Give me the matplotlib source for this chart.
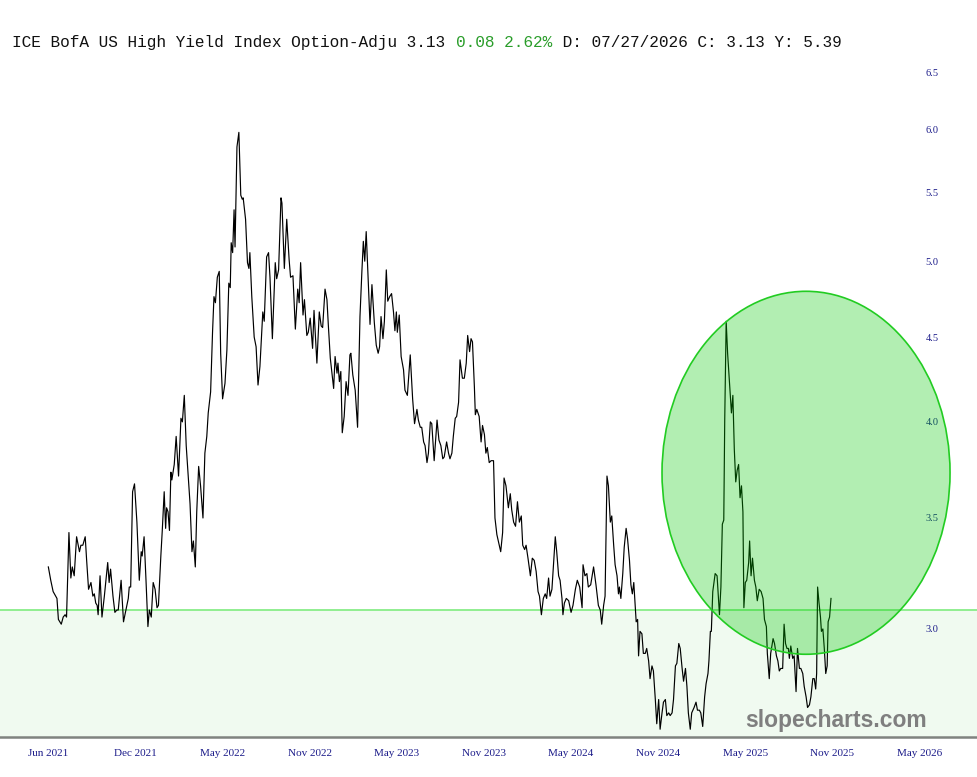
import numpy as np
import pandas as pd
import matplotlib
matplotlib.use("Agg")
import matplotlib.pyplot as plt
from matplotlib.patches import Ellipse
from matplotlib.ticker import NullLocator, FixedLocator, FixedFormatter

# ---------------- data ----------------
start_date = "2021-05-17"

day_offsets = [
    0,5,10,18,21,27,31,35,38,43,47,50,54,59,65,68,72,77,80,84,89,93,96,99,102,104,108,112,117,124,
    127,130,135,139,143,146,152,157,162,167,169,172,176,180,185,190,194,196,200,204,208,211,215,219,
    223,227,230,235,238,242,245,247,250,253,
    256,258,263,267,272,277,280,284,288,293,296,300,303,307,310,314,318,323,327,331,334,339,343,346,
    349,353,357,360,364,369,373,377,380,382,385,388,390,394,398,402,405,407,412,416,419,421,425,430,
    434,438,442,448,451,456,460,463,468,474,477,481,486,488,493,498,503,506,511,516,521,524,527,
    532,535,540,543,547,552,555,561,566,570,573,578,582,585,589,596,599,603,605,608,611,614,618,622,
    626,630,632,636,641,646,651,655,658,661,664,668,672,676,681,685,689,692,695,699,702,706,709,713,
    717,721,724,727,729,733,737,742,745,750,756,761,765,770,773,777,780,784,787,791,794,798,801,806,
    812,816,820,824,827,832,836,839,843,846,850,853,857,860,865,869,873,876,880,883,886,890,892,895,
    900,904,907,911,914,917,921,925,930,933,937,942,945,949,952,956,961,965,968,972,976,980,984,988,
    991,995,998,1002,1007,1011,1015,1019,1023,1026,1030,1034,1038,1041,1045,1048,1052,1055,1059,1062,
    1066,1069,
    1073,1075,1078,1082,1087,1092,1096,1101,1105,1110,1115,1117,1121,1125,1128,1133,1139,1144,1149,1153,
    1156,1160,1163,1167,1170,1174,1177,1181,1184,1188,1191,1193,1196,1200,1203,1207,1210,1214,1217,1220,
    1223,1226,1228,1231,1233,1236,1240,1243,1247,1250,1254,1257,1261,1264,1268,1271,1275,1278,1282,1285,
    1289,1292,1296,1299,1303,1306,1310,1313,1317,1320,1324,1327,1331,1334,1337,1341,
    1344,1349,1353,1356,1360,1363,1367,1371,1374,1378,1380,1383,1385,1388,1393,1397,1402,1405,1408,1411,
    1413,1416,1419,1423,1427,1430,1433,1436,1439,1442,1445,1448,1451,1453,1456,1459,1463,1465,1468,1471,
    1475,1478,1481,1485,1489,1493,1496,1500,1502,1506,1509,1514,1517,1521,1524,1527,1530,1534,1537,1540,
    1543,1546,1548,1551,1555,1558,1562,1565,1569,1572,1576,1579,1583,1586,1590,1593,1597,1600,1603,1605,
    1607,1610,1613,1615,1618,1621,1624,1627,1629,1632,1635,
]

spread = [
    3.27,3.21,3.16,3.13,3.04,3.02,3.05,3.06,3.05,3.43,3.22,3.27,3.23,3.41,3.34,3.37,3.37,3.41,3.30,3.17,
    3.20,3.14,3.15,3.11,3.10,3.06,3.23,3.05,3.14,3.29,3.20,3.26,3.14,3.07,3.08,3.08,3.21,3.03,3.08,3.13,
    3.18,3.18,3.63,3.67,3.48,3.21,3.34,3.32,3.41,3.21,3.01,3.08,3.05,3.20,3.17,3.09,3.10,3.32,3.44,3.63,
    3.45,3.55,3.53,3.44,
    3.73,3.69,3.77,3.92,3.71,4.02,4.00,4.15,3.87,3.68,3.57,3.34,3.39,3.27,3.53,3.76,3.66,3.50,3.83,3.92,
    4.05,4.17,4.53,4.76,4.72,4.89,4.93,4.40,4.13,4.22,4.42,4.85,4.82,5.13,5.06,5.37,5.10,5.86,5.98,5.48,
    5.45,5.46,5.30,4.99,4.95,5.06,4.76,4.50,4.44,4.21,4.32,4.66,4.60,5.03,5.06,4.89,4.49,4.99,4.88,4.94,
    5.46,5.42,4.95,5.30,5.01,4.89,4.90,4.55,4.81,4.72,4.99,
    4.64,4.74,4.51,4.53,4.62,4.43,4.67,4.34,4.66,4.57,4.56,4.81,4.74,4.57,4.37,4.19,4.38,4.28,4.34,4.23,
    4.29,3.94,4.03,4.23,4.15,4.39,4.40,4.27,4.18,3.97,4.63,4.93,5.14,5.00,5.21,4.88,4.58,4.84,4.59,4.45,
    4.40,4.44,4.63,4.49,4.60,4.94,4.73,4.76,4.78,4.66,4.54,4.66,4.53,4.64,4.38,4.30,4.18,4.15,4.39,4.13,
    3.99,4.07,4.01,3.97,3.97,3.89,3.87,3.78,3.83,4.00,3.99,3.79,4.01,3.90,3.87,3.80,3.81,3.89,3.83,3.80,
    3.83,3.92,4.02,4.03,4.11,4.36,4.25,4.25,4.34,4.51,4.41,4.49,4.47,4.20,4.04,4.07,4.03,3.89,3.98,3.93,
    3.83,3.86,3.78,3.79,3.79,3.50,3.42,3.37,3.34,3.43,3.70,3.66,3.55,3.62,3.54,3.48,3.46,3.58,3.48,3.51,
    3.37,3.35,3.37,3.31,3.23,3.31,3.30,3.25,3.16,3.14,3.06,3.13,3.15,3.13,3.22,3.14,3.17,3.27,3.41,3.34,
    3.23,3.21,
    3.13,3.06,3.11,3.13,3.12,3.07,3.10,3.17,3.21,3.18,3.09,3.28,3.23,3.24,3.18,3.19,3.27,3.19,3.10,3.08,
    3.02,3.10,3.14,3.71,3.66,3.48,3.51,3.37,3.28,3.23,3.15,3.18,3.13,3.24,3.36,3.45,3.40,3.30,3.19,3.15,
    3.20,3.10,3.03,3.04,2.89,2.99,2.98,2.90,2.90,2.92,2.87,2.80,2.85,2.83,2.72,2.63,2.72,2.61,2.67,2.71,
    2.72,2.66,2.67,2.66,2.67,2.72,2.85,2.86,2.94,2.92,2.84,2.79,2.84,2.77,2.67,2.61,
    2.67,2.69,2.71,2.68,2.68,2.67,2.62,2.73,2.78,2.82,2.87,2.99,2.99,3.16,3.24,3.23,3.06,3.18,3.47,3.49,
    4.01,4.60,4.40,4.22,4.05,4.15,3.85,3.68,3.74,3.77,3.60,3.66,3.53,3.09,3.20,3.21,3.29,3.39,3.23,3.31,
    3.21,3.18,3.12,3.17,3.16,3.13,3.04,3.01,2.90,2.80,2.90,2.96,2.94,2.89,2.87,2.83,2.84,2.84,3.02,2.94,
    2.92,2.92,2.88,2.93,2.88,2.89,2.75,2.92,2.84,2.84,2.82,2.77,2.73,2.69,2.70,2.73,2.80,2.80,2.76,2.82,
    3.18,3.11,3.05,2.99,3.00,2.92,2.82,2.85,3.03,3.05,3.13,
]

tick_labels = ["Jun 2021", "Dec 2021", "May 2022", "Nov 2022", "May 2023", "Nov 2023",
               "May 2024", "Nov 2024", "May 2025", "Nov 2025", "May 2026"]
tick_step_days = 182

y_ticks = [3.0, 3.5, 4.0, 4.5, 5.0, 5.5, 6.0, 6.5]
band_level = 3.08
y_limits = (2.582, 7.187)
x_limit_days = (-101, 1940)

title_parts = [
    ("ICE BofA US High Yield Index Option-Adju 3.13 ", "#111111"),
    ("0.08 2.62%", "#2a9d2a"),
    (" D: 07/27/2026 C: 3.13 Y: 5.39", "#111111"),
]
watermark = "slopecharts.com"

# ---------------- figure ----------------
W, H = 977, 777
fig = plt.figure(figsize=(W / 100, H / 100), dpi=100)
fig.patch.set_facecolor("white")
ax = fig.add_axes([0, 40 / H, 1, 737 / H])
ax.set_facecolor("white")

t0 = pd.Timestamp(start_date)
dates = t0 + pd.to_timedelta(day_offsets, unit="D")

ax.set_yscale("log")
ax.set_ylim(*y_limits)
ax.set_xlim(t0 + pd.Timedelta(days=x_limit_days[0]), t0 + pd.Timedelta(days=x_limit_days[1]))

ax.axhspan(y_limits[0], band_level, color="#f0faf0", zorder=0, lw=0)
ax.axhline(band_level, color="#90ee90", lw=1.4, zorder=1)

ax.plot(dates, spread, color="black", lw=0.85, zorder=2)

ell = Ellipse((0.825, 0.3585), 0.2948, 0.4925, transform=ax.transAxes,
              facecolor=(0.0, 0.78, 0.0, 0.30), edgecolor="#22cc22", lw=1.2, zorder=3)
ax.add_patch(ell)

# y axis labels drawn inside on the right
ax.yaxis.set_ticks_position("right")
ax.yaxis.set_minor_locator(NullLocator())
ax.yaxis.set_major_locator(FixedLocator(y_ticks))
ax.yaxis.set_major_formatter(FixedFormatter([f"{v:.1f}" for v in y_ticks]))
ax.tick_params(axis="y", which="both", length=0, pad=-37, labelsize=7.5,
               labelcolor="#1c1c8a")
for lab in ax.get_yticklabels():
    lab.set_fontfamily("Liberation Serif")

# x axis
tick_dates = [t0 + pd.Timedelta(days=tick_step_days * i) for i in range(len(tick_labels))]
ax.set_xticks(tick_dates)
ax.set_xticklabels(tick_labels, fontfamily="Liberation Serif", fontsize=8, color="#1c1c8a")
ax.tick_params(axis="x", length=0, pad=9)

for s in ["top", "left", "right"]:
    ax.spines[s].set_visible(False)
ax.spines["bottom"].set_color("#7f837f")
ax.spines["bottom"].set_linewidth(1.8)
ax.spines["bottom"].set_zorder(5)

# title in monospace with coloured segment
char_w = 9.66
x0 = 12
n = 0
for txt, col in title_parts:
    fig.text((x0 + n * char_w) / W, (H - 47) / H, txt, color=col,
             fontfamily="Liberation Mono", fontsize=11.6, ha="left", va="baseline")
    n += len(txt)

fig.text(745 / W, (H - 727) / H, watermark, color="#7f7f7f", fontsize=16.5,
         fontweight="bold", fontfamily="Liberation Sans", ha="left", va="baseline", zorder=6)

fig.savefig("out.png", dpi=100, facecolor="white")
